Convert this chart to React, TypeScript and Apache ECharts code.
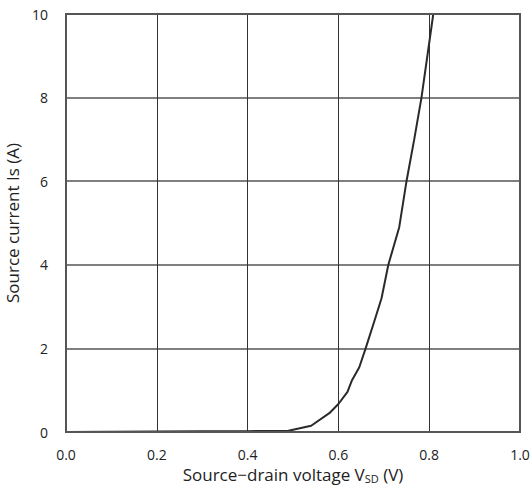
import React, { useEffect, useRef } from "react";
import * as echarts from "echarts";

const voltage = [0, 0.1, 0.2, 0.3, 0.4, 0.49, 0.54, 0.58, 0.6, 0.62, 0.63, 0.646, 0.66, 0.68, 0.695, 0.71, 0.734, 0.75, 0.767, 0.783, 0.809];
const current = [0, 0.005, 0.01, 0.015, 0.02, 0.03, 0.15, 0.45, 0.67, 0.96, 1.24, 1.55, 2.0, 2.68, 3.2, 4.0, 4.9, 6.0, 7.0, 8.0, 10.0];

export default function App() {
  const ref = useRef<HTMLDivElement>(null);
  useEffect(() => {
    document.body.style.margin = "0";
    const chart = echarts.init(ref.current!, undefined, { renderer: "svg" });
    const font = "Open Sans";
    chart.setOption({
      animation: false,
      backgroundColor: "#ffffff",
      grid: { left: 66, right: 12, top: 14, bottom: 58, containLabel: false, outerBoundsMode: "none" },
      xAxis: {
        type: "value",
        min: 0,
        max: 1,
        interval: 0.2,
        name: "Source\u2212drain voltage V{sub|SD} (V)",
        nameLocation: "middle",
        nameGap: 26,
        nameTextStyle: {
          fontFamily: font,
          fontSize: 17,
          color: "#222",
          rich: { sub: { fontFamily: font, fontSize: 11, color: "#222", verticalAlign: "bottom", padding: [9, 0, 0, 0] } },
        },
        axisLine: { show: true, lineStyle: { color: "#555", width: 2 } },
        axisTick: { show: false },
        axisLabel: { fontFamily: font, fontSize: 14, color: "#222", margin: 15, formatter: (v: number) => v.toFixed(1) },
        splitLine: { show: true, lineStyle: { color: "#333", width: 1 } },
      },
      yAxis: {
        type: "value",
        min: 0,
        max: 10,
        interval: 2,
        name: "Source current Is (A)",
        nameLocation: "middle",
        nameGap: 32,
        nameTextStyle: { fontFamily: font, fontSize: 17, color: "#222" },
        axisLine: { show: true, lineStyle: { color: "#333", width: 2 } },
        axisTick: { show: false },
        axisLabel: { fontFamily: font, fontSize: 14, color: "#222", margin: 18 },
        splitLine: { show: true, lineStyle: { color: "#555", width: 1.5 } },
      },
      series: [
        {
          type: "line",
          data: voltage.map((v, i) => [v, current[i]]),
          showSymbol: false,
          lineStyle: { color: "#2a2a2a", width: 2 },
          clip: true,
        },
      ],
      graphic: [
        { type: "rect", shape: { x: 66, y: 14, width: 454, height: 418 }, style: { fill: "none", stroke: "#555", lineWidth: 2 }, silent: true, z: 10 },
      ],
    });
    return () => chart.dispose();
  }, []);
  return <div ref={ref} style={{ width: 532, height: 490 }} />;
}
